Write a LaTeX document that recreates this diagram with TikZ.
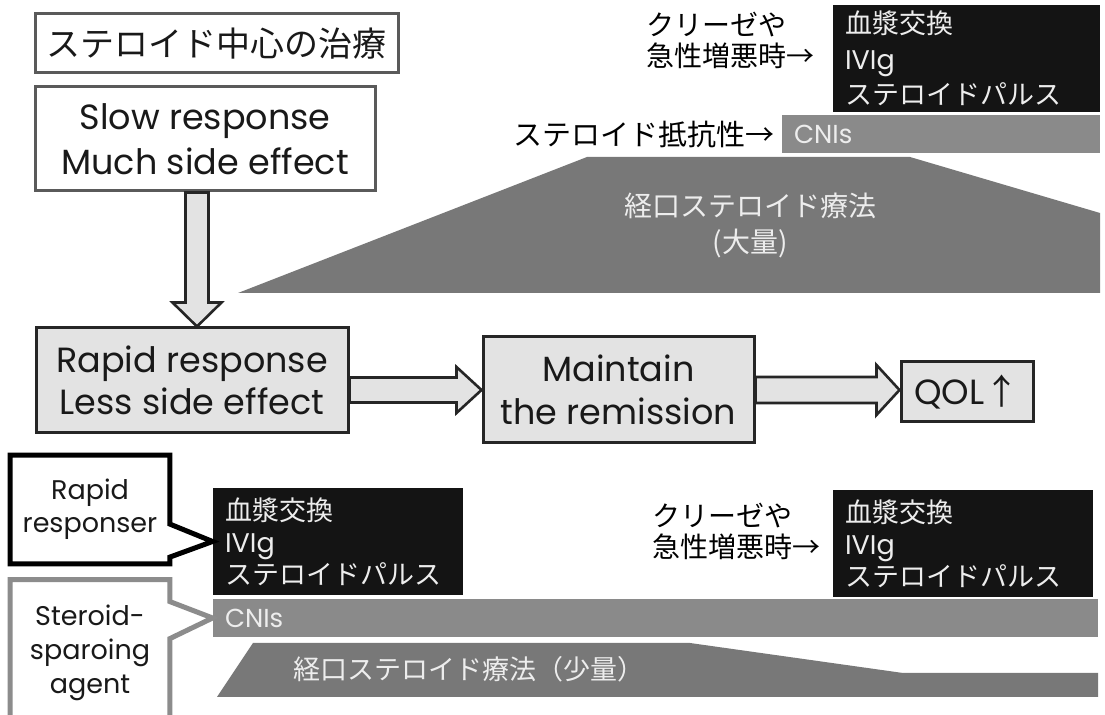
\documentclass[tikz,border=0pt]{standalone}
\usepackage{fontspec}
\setmainfont{Poppins}
\newfontfamily\jp{Noto Sans CJK JP}
\usetikzlibrary{calc}
\definecolor{lightfill}{HTML}{E3E3E3}
\definecolor{edgegray}{HTML}{5A5A5A}
\definecolor{edgedark}{HTML}{262626}
\definecolor{trapgray}{HTML}{787878}
\definecolor{cnigray}{HTML}{8A8A8A}
\definecolor{blackfill}{HTML}{141414}
\definecolor{paletext}{HTML}{EDEDED}
\definecolor{callgray}{HTML}{8C8C8C}
\newcommand\harrow[5]{%
  \path[fatarrow] let \p1=(#1), \p2=(#2) in
    (\x1,\y1+#3) -- (\x2-#5,\y1+#3) -- (\x2-#5,\y1+#4) -- (\x2,\y1) --
    (\x2-#5,\y1-#4) -- (\x2-#5,\y1-#3) -- (\x1,\y1-#3) -- cycle;}
\newcommand\varrow[5]{%
  \path[fatarrow] let \p1=(#1), \p2=(#2) in
    (\x1-#3,\y1) -- (\x1-#3,\y2+#5) -- (\x1-#4,\y2+#5) -- (\x1,\y2) --
    (\x1+#4,\y2+#5) -- (\x1+#3,\y2+#5) -- (\x1+#3,\y1) -- cycle;}
\tikzset{
  whitebox/.style={draw=edgegray, line width=1.5pt, fill=white, inner sep=0pt, align=center, text=black!90},
  graybox/.style={draw=edgedark, line width=1.5pt, fill=lightfill, inner sep=0pt, align=center, text=black!90},
  fatarrow/.style={draw=edgedark, line width=1.3pt, fill=lightfill, line join=miter},
  blackbox/.style={fill=blackfill, inner xsep=6pt, inner ysep=0pt, align=left, text=paletext},
  cnibar/.style={fill=cnigray, inner xsep=6pt, inner ysep=0pt, align=left, text=paletext},
  jplabel/.style={inner sep=0pt, align=left, text=black},
  calltext/.style={inner sep=0pt, align=center, text=black!90},
  mainfont/.style={font=\fontsize{17.5}{22.5}\selectfont},
}
\begin{document}
\begin{tikzpicture}[x=0.5pt,y=-0.5pt]
\useasboundingbox (0,0) rectangle (1105,715);
\fill[white] (0,0) rectangle (1105,715);

% ---- top area ----
\node[whitebox, minimum width=181.5pt, minimum height=29.5pt,
      font=\jp\fontsize{17}{20}\selectfont] (title) at (216.5,43.5) {ステロイド中心の治療};
\node[whitebox, minimum width=170pt, minimum height=52pt, mainfont] (slow) at (205,139)
  {Slow response\\Much side effect};

\fill[trapgray] (238,293) -- (587,157) -- (910,157) -- (1100,213) -- (1100,293) -- cycle;
\node[inner sep=0pt, align=center, text=paletext, font=\jp\fontsize{14}{18}\selectfont]
  (oralhigh) at (750,225) {経口ステロイド療法\\(大量)};

\node[cnibar, minimum height=19pt, text width=147pt, font=\fontsize{13}{15}\selectfont]
  (cnitop) at (941,134) {CNIs};
\node[jplabel, anchor=east, font=\jp\fontsize{14.5}{16}\selectfont] (resist) at (775,134)
  {ステロイド抵抗性→};

\node[blackbox, minimum height=53.5pt, text width=121.5pt, font=\fontsize{13.5}{17.75}\selectfont]
  (bbtop) at (966.5,58.5) {{\jp 血漿交換}\\IVIg\\{\jp ステロイドパルス}};
\node[jplabel, anchor=west, font=\jp\fontsize{14}{15.5}\selectfont] (crisistop) at (646,40.5)
  {クリーゼや\\急性増悪時→};

% ---- middle row ----
\node[graybox, minimum width=156pt, minimum height=52.5pt, font=\fontsize{17.5}{21}\selectfont]
  (rapid) at (192,380.5) {Rapid response\\Less side effect};
\node[graybox, minimum width=135.5pt, minimum height=53pt, font=\fontsize{17.5}{21.5}\selectfont]
  (maint) at (618.5,390) {Maintain\\the remission};
\node[graybox, minimum width=66pt, minimum height=30pt, font=\fontsize{17.5}{21}\selectfont]
  (qol) at (967,392) {QOL{\jp ↑}};

\coordinate (dstart) at ($(slow.south)+(-8,0)$);
\varrow{dstart}{dstart |- rapid.north}{5.75pt}{12.25pt}{12pt}
\harrow{rapid.east |- maint.west}{maint.west}{6.25pt}{11.5pt}{12.5pt}
\harrow{maint.east}{maint.east -| qol.west}{6.5pt}{12.5pt}{11.5pt}

% ---- bottom area ----
\node[blackbox, minimum height=53.5pt, text width=113pt, font=\fontsize{13.5}{16}\selectfont]
  (bbl) at (338,541.5) {{\jp 血漿交換}\\IVIg\\{\jp ステロイドパルス}};
\node[cnibar, minimum height=19pt, text width=430.5pt, font=\fontsize{13}{15}\selectfont]
  (cnibot) at (655.5,618) {CNIs};
\fill[trapgray] (217,697) -- (253,643) -- (690,643) -- (903,673) -- (1098,673) -- (1098,697) -- cycle;
\node[inner sep=0pt, anchor=west, text=paletext, font=\jp\fontsize{13.5}{15}\selectfont]
  (orallow) at (293,669) {経口ステロイド療法（少量）};

\node[blackbox, minimum height=53.5pt, text width=118pt, font=\fontsize{13.5}{16}\selectfont]
  (bbr) at (963,543.5) {{\jp 血漿交換}\\IVIg\\{\jp ステロイドパルス}};
\node[jplabel, anchor=west, font=\jp\fontsize{14}{15.5}\selectfont] (crisisbot) at (652,531.5)
  {クリーゼや\\急性増悪時→};

% callouts
\node[calltext, minimum width=79.5pt, minimum height=54pt, font=\fontsize{13.5}{16.5}\selectfont]
  (rr) at (90,509.5) {Rapid\\responser};
\draw[line width=2.5pt, line join=miter, fill=white]
  (rr.north west) -- (rr.north east) -- ($(rr.north east)+(0,69)$) -- (bbl.west)
  -- ($(rr.north east)+(0,102)$) -- (rr.south east) -- (rr.south west) -- cycle;
\node[calltext, minimum width=79.5pt, minimum height=54pt, font=\fontsize{13.5}{16.5}\selectfont]
  at (rr) {Rapid\\responser};

\node[calltext, minimum width=79.5pt, minimum height=72.5pt, font=\fontsize{13.5}{17}\selectfont]
  (sp) at (90,652.5) {Steroid-\\sparoing\\agent};
\draw[draw=callgray, line width=2.5pt, line join=miter, fill=white]
  (sp.north west) -- (sp.north east) -- ($(sp.north east)+(0,22)$) -- (cnibot.west)
  -- ($(sp.north east)+(0,59)$) -- (sp.south east) -- (sp.south west) -- cycle;
\node[calltext, minimum width=79.5pt, minimum height=72.5pt, font=\fontsize{13.5}{17}\selectfont]
  at (sp) {Steroid-\\sparoing\\agent};
\end{tikzpicture}
\end{document}
